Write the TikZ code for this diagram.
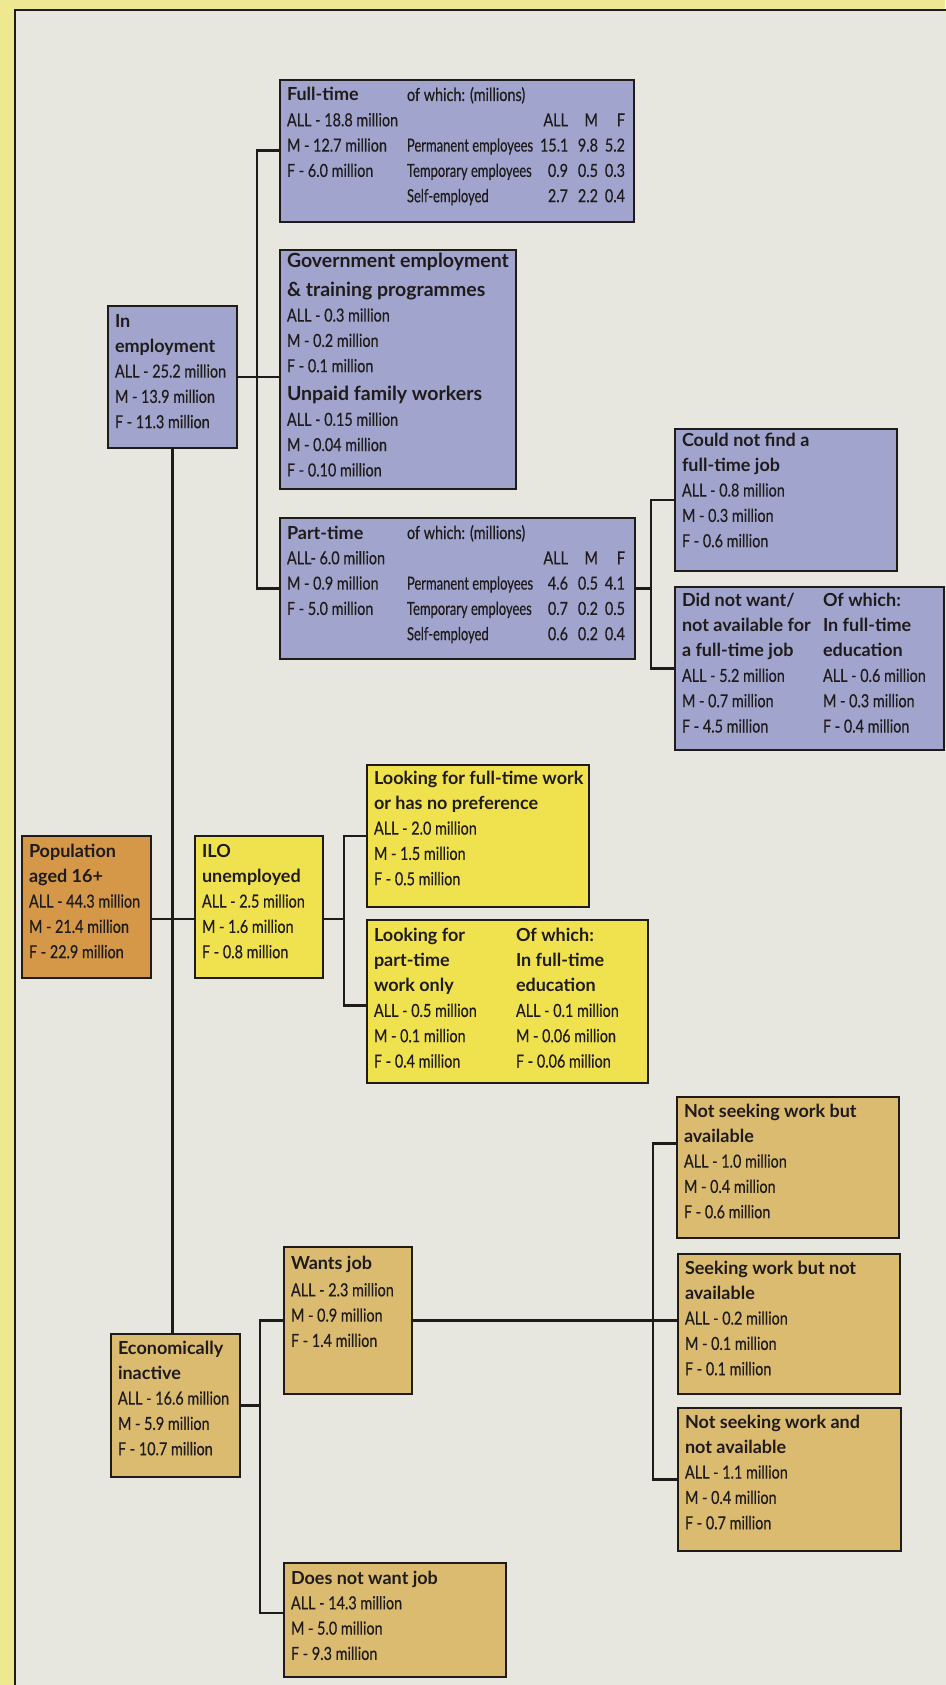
\documentclass[tikz,border=0pt]{standalone}
\usepackage{fontspec}
\usepackage{array}
\setmainfont{Lato}
\newfontfamily\dfamily{Lato}[FakeStretch=0.8,FakeBold=0.4]
\newfontfamily\dnarrow{Lato}[FakeStretch=0.72,FakeBold=0.4]
\newfontfamily\tfamily{Lato}
\newcommand\ttl[1]{{\tfamily\bfseries\fontsize{18}{25.3}\selectfont #1}}
\newcommand\gttl[1]{{\tfamily\bfseries\fontsize{19.5}{25.3}\selectfont #1}}
\newcommand\txtset{\dfamily\fontsize{18}{25.3}\selectfont}
\newcommand\blk[1]{\begin{tabular}[t]{@{}l@{}}#1\end{tabular}}
\newcolumntype{W}{>{\hbox to 133pt\bgroup\dnarrow\fontsize{18}{25.3}\selectfont}l<{\hfil\egroup}}
\newcolumntype{R}[1]{>{\hbox to #1\bgroup\hfil}l<{\egroup}}
\newcommand\tbl[1]{\begin{tabular}[t]{@{}W@{}R{28pt}@{}R{30pt}@{}R{27pt}@{}}#1\end{tabular}}
\definecolor{outerY}{RGB}{238,233,145}
\definecolor{panelG}{RGB}{231,231,223}
\definecolor{blueB}{RGB}{161,165,206}
\definecolor{yelB}{RGB}{240,226,78}
\definecolor{tanB}{RGB}{218,187,112}
\definecolor{popB}{RGB}{212,152,72}
\definecolor{ink}{RGB}{32,27,27}
\tikzset{
  box/.style={draw=ink, line width=1.6pt, inner sep=0pt, anchor=north west},
  txt/.style={anchor=base west, inner sep=0pt, outer sep=0pt, font=\txtset, text=ink},
  conn/.style={draw=ink, line width=2.6pt, line cap=rect}
}
\newcommand\mkbox[6]{\node[box, fill=#6, minimum width=#4pt-#2pt, minimum height=#5pt-#3pt] (#1) at (#2,#3) {};}
\begin{document}
\begin{tikzpicture}[x=1pt,y=-1pt]
\useasboundingbox (0,0) rectangle (945,1685);
\fill[outerY] (0,0) rectangle (945,1685);
\fill[panelG] (15,10) rectangle (950,1690);
\draw[ink, line width=1.6pt] (15,1690) -- (15,10) -- (950,10);

% boxes
\mkbox{fulltime}{279}{79}{633}{221}{blueB}
\mkbox{gov}{279}{249}{515}{488}{blueB}
\mkbox{inemp}{107}{305}{236}{447}{blueB}
\mkbox{parttime}{279}{517}{634}{658}{blueB}
\mkbox{couldnot}{674}{428}{896}{570}{blueB}
\mkbox{didnot}{674}{586}{943}{749}{blueB}
\mkbox{pop}{21}{835}{150}{977}{popB}
\mkbox{ilo}{194}{835}{322}{977}{yelB}
\mkbox{lookft}{366}{764}{588}{906}{yelB}
\mkbox{lookpt}{366}{919}{647}{1082}{yelB}
\mkbox{econ}{110}{1333}{239}{1476}{tanB}
\mkbox{wants}{283}{1246}{411}{1393}{tanB}
\mkbox{doesnot}{283}{1562}{505}{1676}{tanB}
\mkbox{nsa}{676}{1096}{898}{1237}{tanB}
\mkbox{sna}{677}{1253}{899}{1393}{tanB}
\mkbox{nsn}{677}{1407}{900}{1550}{tanB}

% junction coordinates
\coordinate (j1) at (257,0);
\coordinate (j2) at (651,0);
\coordinate (j3) at (344,0);
\coordinate (j4) at (260,0);
\coordinate (j5) at (653,0);

% connectors
\draw[conn] (inemp.south) -- (inemp.south |- econ.north);
\draw[conn] ([yshift=-12pt]pop.east) -- ([yshift=-12pt]ilo.west);
\draw[conn] (inemp.east) -- (gov.west |- inemp.east);
\draw[conn] (fulltime.west) -- (fulltime.west -| j1) |- (parttime.west);
\draw[conn] (parttime.east) -- (parttime.east -| j2);
\draw[conn] (couldnot.west) -- (couldnot.west -| j2) |- (didnot.west);
\draw[conn] ([yshift=-12pt]ilo.east) -- ([yshift=-12pt]ilo.east -| j3);
\draw[conn] (lookft.west) -- (lookft.west -| j3) |- ([yshift=-4pt]lookpt.west);
\draw[conn] (econ.east) -- (econ.east -| j4);
\draw[conn] (wants.west) -- (wants.west -| j4) |- ([yshift=7pt]doesnot.west);
\draw[conn] (wants.east) -- (sna.west |- wants.east);
\draw[conn] ([yshift=24pt]nsa.west) -- ([yshift=24pt]nsa.west -| j5) |- (nsn.west);

% texts
\node[txt] (fulltime-l) at ([shift={(8pt,-22pt)}]fulltime.north west) {\blk{\ttl{Full-time}\\ ALL - 18.8 million\\ M - 12.7 million\\ F - 6.0 million}};
\node[txt] (fulltime-r) at ([shift={(128pt,-22pt)}]fulltime.north west) {\tbl{\multicolumn{4}{@{}l@{}}{of which: (millions)}\\
 & ALL & M & F\\
 Permanent employees & 15.1 & 9.8 & 5.2\\
 Temporary employees & 0.9 & 0.5 & 0.3\\
 Self-employed & 2.7 & 2.2 & 0.4}};

\node[txt] (gov-t) at ([shift={(8pt,-19pt)}]gov.north west) {\blk{\gttl{Government employment}\\[3pt]
 \gttl{\& training programmes}\\ ALL - 0.3 million\\ M - 0.2 million\\ F - 0.1 million\\[3pt]
 \gttl{Unpaid family workers}\\ ALL - 0.15 million\\ M - 0.04 million\\ F - 0.10 million}};

\node[txt] (inemp-t) at ([shift={(8pt,-22pt)}]inemp.north west) {\blk{\ttl{In}\\ \ttl{employment}\\ ALL - 25.2 million\\ M - 13.9 million\\ F - 11.3 million}};

\node[txt] (parttime-l) at ([shift={(8pt,-22pt)}]parttime.north west) {\blk{\ttl{Part-time}\\ ALL- 6.0 million\\ M - 0.9 million\\ F - 5.0 million}};
\node[txt] (parttime-r) at ([shift={(128pt,-22pt)}]parttime.north west) {\tbl{\multicolumn{4}{@{}l@{}}{of which: (millions)}\\
 & ALL & M & F\\
 Permanent employees & 4.6 & 0.5 & 4.1\\
 Temporary employees & 0.7 & 0.2 & 0.5\\
 Self-employed & 0.6 & 0.2 & 0.4}};

\node[txt] (couldnot-t) at ([shift={(8pt,-18pt)}]couldnot.north west) {\blk{\ttl{Could not find a}\\ \ttl{full-time job}\\ ALL - 0.8 million\\ M - 0.3 million\\ F - 0.6 million}};

\node[txt] (didnot-l) at ([shift={(8pt,-20pt)}]didnot.north west) {\blk{\ttl{Did not want/}\\ \ttl{not available for}\\ \ttl{a full-time job}\\ ALL - 5.2 million\\ M - 0.7 million\\ F - 4.5 million}};
\node[txt] (didnot-r) at ([shift={(149pt,-20pt)}]didnot.north west) {\blk{\ttl{Of which:}\\ \ttl{In full-time}\\ \ttl{education}\\ ALL - 0.6 million\\ M - 0.3 million\\ F - 0.4 million}};

\node[txt] (pop-t) at ([shift={(8pt,-22pt)}]pop.north west) {\blk{\ttl{Population}\\ \ttl{aged 16+}\\ ALL - 44.3 million\\ M - 21.4 million\\ F - 22.9 million}};
\node[txt] (ilo-t) at ([shift={(8pt,-22pt)}]ilo.north west) {\blk{\ttl{ILO}\\ \ttl{unemployed}\\ ALL - 2.5 million\\ M - 1.6 million\\ F - 0.8 million}};

\node[txt] (lookft-t) at ([shift={(8pt,-20pt)}]lookft.north west) {\blk{\ttl{Looking for full-time work}\\ \ttl{or has no preference}\\ ALL - 2.0 million\\ M - 1.5 million\\ F - 0.5 million}};
\node[txt] (lookpt-l) at ([shift={(8pt,-22pt)}]lookpt.north west) {\blk{\ttl{Looking for}\\ \ttl{part-time}\\ \ttl{work only}\\ ALL - 0.5 million\\ M - 0.1 million\\ F - 0.4 million}};
\node[txt] (lookpt-r) at ([shift={(150pt,-22pt)}]lookpt.north west) {\blk{\ttl{Of which:}\\ \ttl{In full-time}\\ \ttl{education}\\ ALL - 0.1 million\\ M - 0.06 million\\ F - 0.06 million}};

\node[txt] (econ-t) at ([shift={(8pt,-21pt)}]econ.north west) {\blk{\ttl{Economically}\\ \ttl{inactive}\\ ALL - 16.6 million\\ M - 5.9 million\\ F - 10.7 million}};
\node[txt] (wants-t) at ([shift={(8pt,-23pt)}]wants.north west) {\blk{\ttl{Wants job}\\[2pt] ALL - 2.3 million\\ M - 0.9 million\\ F - 1.4 million}};
\node[txt] (doesnot-t) at ([shift={(8pt,-22pt)}]doesnot.north west) {\blk{\ttl{Does not want job}\\ ALL - 14.3 million\\ M - 5.0 million\\ F - 9.3 million}};

\node[txt] (nsa-t) at ([shift={(8pt,-21pt)}]nsa.north west) {\blk{\ttl{Not seeking work but}\\ \ttl{available}\\ ALL - 1.0 million\\ M - 0.4 million\\ F - 0.6 million}};
\node[txt] (sna-t) at ([shift={(8pt,-21pt)}]sna.north west) {\blk{\ttl{Seeking work but not}\\ \ttl{available}\\ ALL - 0.2 million\\ M - 0.1 million\\ F - 0.1 million}};
\node[txt] (nsn-t) at ([shift={(8pt,-21pt)}]nsn.north west) {\blk{\ttl{Not seeking work and}\\ \ttl{not available}\\ ALL - 1.1 million\\ M - 0.4 million\\ F - 0.7 million}};
\end{tikzpicture}
\end{document}
